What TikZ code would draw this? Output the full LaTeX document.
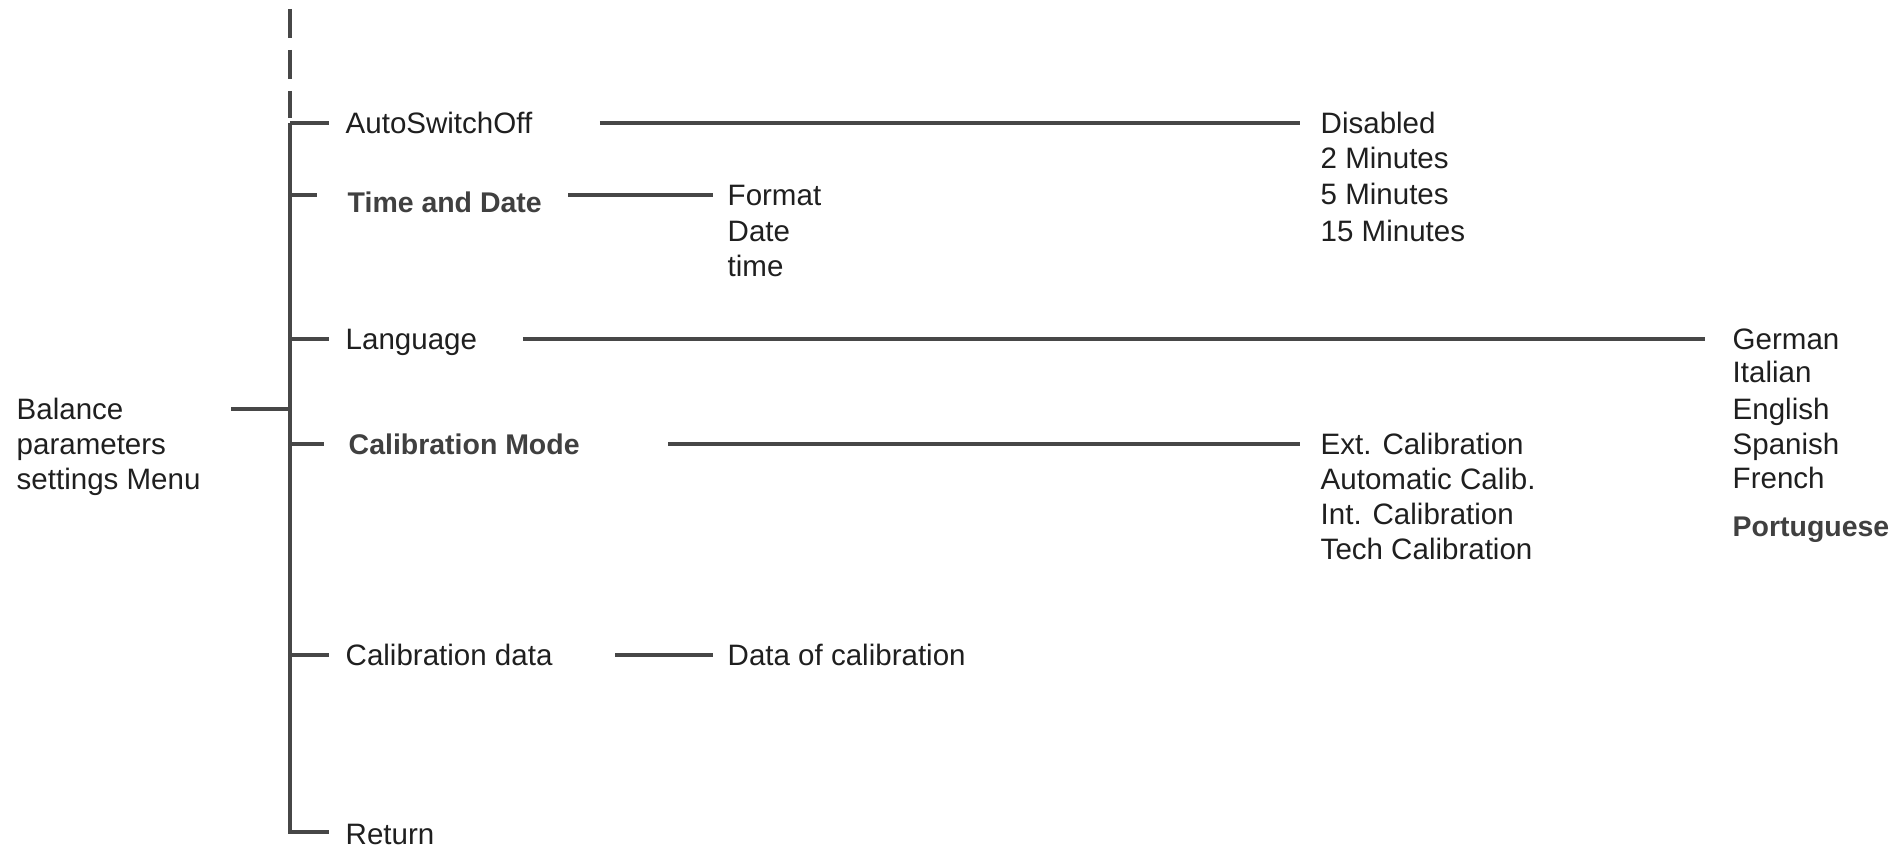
\documentclass[tikz,border=0pt]{standalone}
\usepackage{fontspec}
\setmainfont{Liberation Sans}
\tikzset{
  lnk/.style={line width=1pt,draw=black!72},
  itm/.style={anchor=west,inner sep=0pt,text height=6pt,text depth=0pt,text=black!88},
  itmb/.style={itm,font=\fontsize{8.1}{10}\selectfont\bfseries,text=black!75},
}
\begin{document}
\begin{tikzpicture}[every node/.style={font=\fontsize{8.4}{10}\selectfont}]
\useasboundingbox(0,0)rectangle(18.96,8.46);
% menu root
\node[anchor=west,inner sep=0pt,align=left,text=black!88,font=\fontsize{8.4}{9.96}\selectfont](menu)at(.16,3.99){Balance\\parameters\\settings Menu};
% first level
\node[itm](auto)at(3.45,7.23){AutoSwitchOff};
\node[itmb](tad)at(3.47,6.44){Time and Date};
\node[itm](lang)at(3.45,5.07){Language};
\node[itmb](cmode)at(3.48,4.02){Calibration Mode};
\node[itm](cdata)at(3.45,1.91){Calibration data};
\node[itm](ret)at(3.45,.12){Return};
% second level
\node[itm](dis)at(13.20,7.23){Disabled};
\node[itm](min2)at(13.20,6.88){2 Minutes};
\node[itm](min5)at(13.20,6.52){5 Minutes};
\node[itm](min15)at(13.20,6.15){15 Minutes};
\node[itm](fmt)at(7.27,6.51){Format};
\node[itm](dat)at(7.27,6.15){Date};
\node[itm](tim)at(7.27,5.80){time};
\node[itm](ger)at(17.32,5.07){German};
\node[itm](ita)at(17.32,4.74){Italian};
\node[itm](eng)at(17.32,4.37){English};
\node[itm](spa)at(17.32,4.02){Spanish};
\node[itm](fre)at(17.32,3.68){French};
\node[itmb](por)at(17.32,3.20){Portuguese};
\node[itm](ext)at(13.20,4.02){Ext. Calibration};
\node[itm](autc)at(13.20,3.67){Automatic Calib.};
\node[itm](intc)at(13.20,3.32){Int. Calibration};
\node[itm](tecc)at(13.20,2.97){Tech Calibration};
\node[itm](dofc)at(7.27,1.91){Data of calibration};
% trunk
\coordinate(dtop)at(2.90,8.37);
\coordinate(top)at(2.90,7.23);
\coordinate(bot)at(2.90,.14);
\draw[lnk,dash pattern=on 2.9mm off 1.2mm](dtop)--([yshift=.5mm]top);
\draw[lnk](top)--++(.39,0);
\draw[lnk](top)--(bot)--++(.39,0);
\draw[lnk](top|-fmt.west)--++(.27,0);
\draw[lnk](top|-lang.west)--++(.39,0);
\draw[lnk](top|-cmode.west)--++(.34,0);
\draw[lnk](top|-cdata.west)--++(.39,0);
\draw[lnk]([xshift=3mm,yshift=3.8mm]menu.east)coordinate(m)--(m-|top);
% links to options
\draw[lnk]([xshift=6.7mm]auto.east)--([xshift=-2mm]dis.west);
\draw[lnk]([xshift=2.6mm]tad.east|-fmt.west)--([xshift=-1.4mm]fmt.west);
\draw[lnk]([xshift=4.5mm]lang.east)--([xshift=-2.7mm]ger.west);
\draw[lnk]([xshift=8.8mm]cmode.east)--([xshift=-2mm]ext.west);
\draw[lnk]([xshift=6.2mm]cdata.east)--([xshift=-1.4mm]dofc.west);
\end{tikzpicture}
\end{document}
